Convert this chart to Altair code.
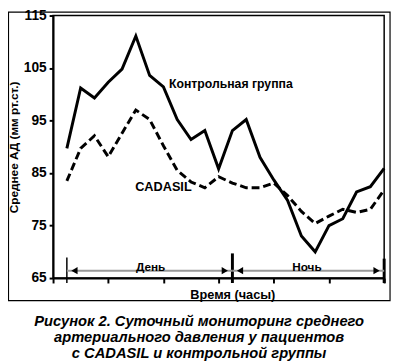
import altair as alt
import pandas as pd

hours = list(range(24))
control = [89.7, 101.2, 99.3, 102.3, 104.8, 111.1, 103.6, 101.4, 95.2, 91.4, 93.1, 85.8,
           93.1, 95.2, 88.0, 83.7, 79.8, 73.0, 70.0, 75.0, 76.3, 81.4, 82.4, 85.9]
cadasil = [83.5, 89.7, 92.1, 88.1, 92.6, 97.0, 95.2, 90.2, 85.5, 83.3, 82.2, 84.3,
           83.1, 82.2, 82.2, 83.1, 80.7, 77.7, 75.4, 76.8, 78.1, 77.5, 78.1, 81.8]

y_ticks = [65, 75, 85, 95, 105, 115]
x_ticks = list(range(-1, 24))

period_names = ["День", "Ночь"]
period_start = [0, 12]
period_end = [12, 23]
period_mid = [6.07, 17.4]

series_names = ["Контрольная группа", "CADASIL"]
label_x = [7.4, 4.95]
label_y = [101.9, 82.3]
label_size = [12.5, 13]

caption = ["Рисунок 2. Суточный мониторинг среднего",
           "артериального давления у пациентов",
           "с CADASIL и контрольной группы"]

FONT = "Liberation Sans"
W, H = 338, 268

xs = alt.Scale(domain=[-1, 23], nice=False, zero=False)
ys = alt.Scale(domain=[65, 115], nice=False, zero=False)

df_c = pd.DataFrame({"h": hours, "v": control})
df_d = pd.DataFrame({"h": hours, "v": cadasil})

frame = alt.Chart(pd.DataFrame({"a": [0]})).mark_rect(
    filled=False, color="black", strokeWidth=1.2, clip=False
).encode(x=alt.value(-45.5), x2=alt.value(344), y=alt.value(-3.5), y2=alt.value(291))

line_c = alt.Chart(df_c).mark_line(color="black", strokeWidth=3).encode(
    x=alt.X("h:Q", scale=xs,
            axis=alt.Axis(values=x_ticks, labels=False, tickSize=5, tickWidth=2,
                          domainWidth=2, domainColor="black", tickColor="black", grid=False,
                          title="Время (часы)", titleFont=FONT, titleFontSize=13,
                          titleFontWeight="bold", titleX=183, titleY=11, titleColor="black")),
    y=alt.Y("v:Q", scale=ys,
            axis=alt.Axis(values=y_ticks, labelFont=FONT, labelFontSize=14,
                          labelFontWeight="bold", labelColor="black", tickSize=4,
                          tickWidth=2, domainWidth=2, domainColor="black",
                          tickColor="black", labelPadding=3, grid=False,
                          title="Среднее АД (мм рт.ст.)", titleFont=FONT,
                          titleFontSize=12, titleFontWeight="bold", titlePadding=3,
                          titleColor="black")),
)
line_d = alt.Chart(df_d).mark_line(color="black", strokeWidth=3, strokeDash=[8, 4]).encode(
    x=alt.X("h:Q", scale=xs), y=alt.Y("v:Q", scale=ys)
)

df_marks = pd.DataFrame({"h": [0, 12, 23], "top": [68.9, 69.7, 68.7], "w": [1.5, 3, 3]})
vrules = alt.Chart(df_marks).mark_rule(color="black").encode(
    x="h:Q", y="top:Q", y2=alt.value(H + 5),
    strokeWidth=alt.StrokeWidth("w:Q", scale=None, legend=None)
)

df_p = pd.DataFrame({"name": period_names, "s": period_start, "e": period_end, "m": period_mid})
arrows = alt.Chart(df_p).mark_rule(color="#9a9a9a", strokeWidth=2).encode(
    x=alt.X("s:Q", scale=xs), x2="e:Q", y=alt.datum(66.4)
)
df_heads_l = pd.DataFrame({"h": [s + 0.55 for s in period_start]})
df_heads_r = pd.DataFrame({"h": [e - 0.55 for e in period_end]})
heads_l = alt.Chart(df_heads_l).mark_point(shape="triangle-left", filled=True, color="black",
                                          size=55, opacity=1).encode(x="h:Q", y=alt.datum(66.4))
heads_r = alt.Chart(df_heads_r).mark_point(shape="triangle-right", filled=True, color="black",
                                          size=55, opacity=1).encode(x="h:Q", y=alt.datum(66.4))
ptext = alt.Chart(df_p).mark_text(font=FONT, fontSize=12, fontWeight="bold", color="black",
                                  baseline="middle").encode(
    x="m:Q", y=alt.datum(67.0), text="name:N")

df_l = pd.DataFrame({"name": series_names, "x": label_x, "y": label_y, "fs": label_size})
ltext = alt.Chart(df_l).mark_text(font=FONT, fontWeight="bold", color="black",
                                  align="left", baseline="middle").encode(
    x="x:Q", y="y:Q", text="name:N",
    size=alt.Size("fs:Q", scale=None, legend=None))

chart = alt.layer(frame, line_c, line_d, vrules, arrows, heads_l, heads_r, ptext, ltext).properties(
    width=W, height=H,
    background="white",
    autosize=alt.AutoSizeParams(type="none"),
    padding={"left": 46, "top": 4, "right": 8, "bottom": 84},
    title=alt.Title(text=caption, orient="bottom", anchor="middle", frame="bounds",
                    font=FONT, fontSize=15, fontStyle="italic", fontWeight="bold",
                    lineHeight=16.3, offset=13, color="black"),
).configure_view(stroke="black", strokeWidth=1.5)

chart.save("out.html", embed_options={"renderer": "svg", "actions": False})
